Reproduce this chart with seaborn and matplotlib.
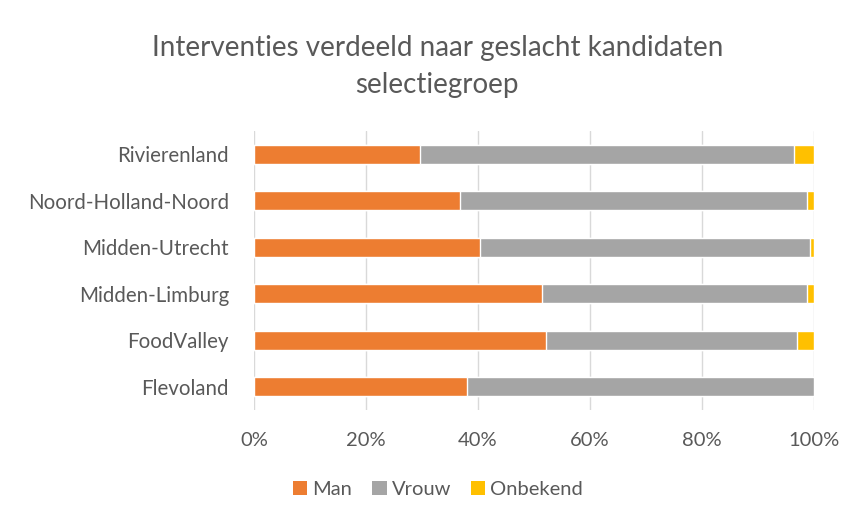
import matplotlib
matplotlib.use("Agg")
import matplotlib.pyplot as plt
from matplotlib.patches import Patch
from matplotlib.ticker import PercentFormatter
import numpy as np
import pandas as pd
import seaborn as sns


regions = ["Rivierenland", "Noord-Holland-Noord", "Midden-Utrecht",
           "Midden-Limburg", "FoodValley", "Flevoland"]
man = [29.6, 36.7, 40.4, 51.5, 52.2, 38.1]
vrouw = [66.9, 62.1, 58.9, 47.3, 44.7, 61.9]
onbekend = [3.5, 1.2, 0.7, 1.2, 3.1, 0.0]

series_names = ["Man", "Vrouw", "Onbekend"]
colors = ["#ED7D31", "#A5A5A5", "#FFC000"]
text_color = "#595959"

sns.set_theme(style="white")
plt.rcParams["font.family"] = ["Lato", "DejaVu Sans"]

df = pd.DataFrame({"region": regions, "Man": man, "Vrouw": vrouw, "Onbekend": onbekend})
# cumulative shares (as fraction) so the stack can be drawn back to front
cum = df[series_names].cumsum(axis=1) / 100

fig = plt.figure(figsize=(8.54, 5.20), dpi=100)
ax = fig.add_axes([254 / 854, 110 / 520, 560 / 854, 279 / 520])

for name, color in reversed(list(zip(series_names, colors))):
    sns.barplot(x=cum[name], y=df["region"], orient="h", color=color,
                width=0.4, saturation=1, ax=ax, zorder=2)

ax.set_xlim(0, 1)
ax.set_xticks(np.linspace(0, 1, 6))
ax.xaxis.set_major_formatter(PercentFormatter(1.0, decimals=0))
ax.grid(axis="x", color="#D9D9D9", linewidth=1, zorder=0)
ax.set_axisbelow(True)
sns.despine(ax=ax, left=True, bottom=True)
ax.set_xlabel("")
ax.set_ylabel("")
ax.tick_params(axis="x", length=0, pad=16, labelsize=14.5, labelcolor=text_color)
ax.tick_params(axis="y", length=0, pad=18, labelsize=14.8, labelcolor=text_color)

fig.text(0.512, 0.908, "Interventies verdeeld naar geslacht kandidaten",
         ha="center", va="center", fontsize=20, color=text_color)
fig.text(0.512, 0.837, "selectiegroep",
         ha="center", va="center", fontsize=20, color=text_color)

handles = [Patch(facecolor=c, edgecolor="none") for c in colors]
fig.legend(handles, series_names, loc="center", bbox_to_anchor=(0.513, 0.058),
           ncol=3, frameon=False, fontsize=14.5, labelcolor=text_color,
           handlelength=0.7, handleheight=0.7, handletextpad=0.25,
           columnspacing=1.0)

fig.savefig("out.png", dpi=100)
plt.close(fig)
